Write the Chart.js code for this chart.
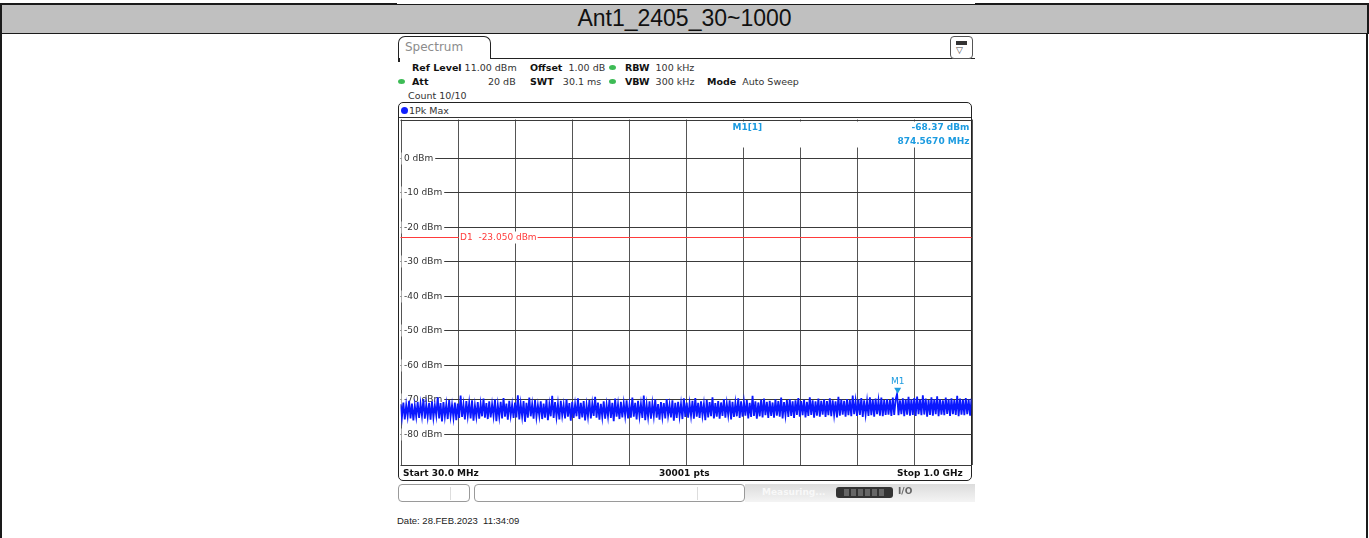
<!DOCTYPE html>
<html>
<head>
<meta charset="utf-8">
<script src="https://cdn.jsdelivr.net/npm/chart.js@4.4.0/dist/chart.umd.min.js"></script>
<style>
  html, body { margin: 0; padding: 0; background: #fff; }
  body { width: 1369px; height: 538px; position: relative; overflow: hidden; font-family: "DejaVu Sans", sans-serif; color: #222; }
  .abs { position: absolute; }
  #title { left: 0; top: 3px; width: 1369px; height: 31px; box-sizing: border-box; background: #c0c0c0;
           border: 2px solid #1a1a1a; border-bottom-width: 1.5px;
           font: 23px "Liberation Sans", Arial, sans-serif; color: #111; text-align: center; line-height: 27px; }
  #cellL { left: 0; top: 33px; width: 2px; height: 505px; background: #1a1a1a; }
  #cellR { left: 1366px; top: 33px; width: 2px; height: 505px; background: #1a1a1a; }
  #topMask { left: 397px; top: 0; width: 578px; height: 4px; background: #fff; }
  #tab { left: 398px; top: 36px; width: 91px; height: 22px; border: 1.5px solid #222; border-bottom: none;
         border-radius: 7px 7px 0 0; background: #fff; }
  #tab span { position: absolute; left: 6px; top: 3px; font-size: 12px; color: #8c8c8c; }
  #tabLine { left: 490px; top: 57.5px; width: 485px; height: 1.5px; background: #222; }
  #tabLeft { left: 398px; top: 58px; width: 1.5px; height: 4px; background: #222; }
  #menuIcon { left: 950px; top: 36px; width: 21px; height: 21px; border: 1px solid #555; border-radius: 4px; background: #fff; }
  #menuIcon .bar { position: absolute; left: 5px; top: 4px; width: 11px; height: 4px; background: #333; }
  #menuIcon .arr { position: absolute; left: 5px; top: 8px; font-size: 9px; color: #444; line-height: 10px; }
  .hd { position: absolute; font-size: 9.5px; line-height: 11px; white-space: pre; color: #333; }
  .hd b { color: #111; }
  .pl { position: absolute; font-size: 9px; line-height: 11px; white-space: pre; color: #111; font-weight: bold; }
  .dot { position: absolute; width: 7px; height: 5px; border-radius: 50%; background: #3dbb55; }
  #traceBox { left: 398px; top: 102px; width: 574px; height: 379px; box-sizing: border-box; border: 1.5px solid #222; border-radius: 5px; }
  #traceSep { left: 399px; top: 117px; width: 572px; height: 1px; background: #333; }
  #pkDot { left: 401px; top: 106.5px; width: 7px; height: 7px; border-radius: 50%; background: #1020ff; }
  #chartWrap { left: 398px; top: 117px; width: 576px; height: 352px; }
  .st { position: absolute; height: 18px; top: 484px; box-sizing: border-box; border: 1px solid #9a9a9a; border-radius: 4px; background: #fff; }
  .st i { position: absolute; top: 2px; width: 1px; height: 13px; background: #ddd; }
  #statusFade { left: 745px; top: 484px; width: 230px; height: 18px; background: linear-gradient(to bottom, #dcdcdc, #f4f4f4); }
  #statusFade .meas { position: absolute; left: 17px; top: 3px; font-size: 9px; color: #f8f8f8; font-weight: bold; }
  #prog { left: 836px; top: 487px; width: 57px; height: 11px; background: #333; border-radius: 3px; }
  #prog i { position: absolute; top: 2px; width: 5px; height: 7px; background: #666; }
  #ioIcon { left: 898px; top: 486px; font: bold 9px "DejaVu Sans"; color: #666; }
  #date { left: 397px; top: 515px; font: 9.5px "Liberation Sans", Arial, sans-serif; color: #222; white-space: pre; }
</style>
</head>
<body>
<div id="title" class="abs">Ant1_2405_30~1000</div>
<div id="cellL" class="abs"></div>
<div id="cellR" class="abs"></div>
<div id="topMask" class="abs"></div>

<div id="tab" class="abs"><span>Spectrum</span></div>
<div id="tabLine" class="abs"></div>
<div id="tabLeft" class="abs"></div>
<div id="menuIcon" class="abs"><div class="bar"></div><div class="arr">▽</div></div>

<div class="hd" style="left:412px;top:61.5px"><b>Ref Level</b> 11.00 dBm</div>
<div class="hd" style="left:530px;top:61.5px"><b>Offset</b>  1.00 dB</div>
<div class="dot" style="left:609px;top:64.5px"></div>
<div class="hd" style="left:625px;top:61.5px"><b>RBW</b>  100 kHz</div>

<div class="dot" style="left:398px;top:78.5px"></div>
<div class="hd" style="left:412px;top:75.5px"><b>Att</b></div>
<div class="hd" style="left:488px;top:75.5px">20 dB</div>
<div class="hd" style="left:530px;top:75.5px"><b>SWT</b>   30.1 ms</div>
<div class="dot" style="left:609px;top:78.5px"></div>
<div class="hd" style="left:625px;top:75.5px"><b>VBW</b>  300 kHz</div>
<div class="hd" style="left:707px;top:75.5px"><b>Mode</b>  Auto Sweep</div>
<div class="hd" style="left:408px;top:89.5px">Count 10/10</div>

<div id="traceBox" class="abs"></div>
<div id="traceSep" class="abs"></div>
<div id="pkDot" class="abs"></div>
<div class="hd" style="left:409px;top:104.5px">1Pk Max</div>

<div id="chartWrap" class="abs"><canvas id="spec"></canvas></div>

<div class="pl" style="left:403px;top:467.5px">Start 30.0 MHz</div>
<div class="pl" style="left:659px;top:467.5px">30001 pts</div>
<div class="pl" style="left:897px;top:467.5px">Stop 1.0 GHz</div>

<div class="st" style="left:398px;width:72px"><i style="left:51px"></i></div>
<div class="st" style="left:474px;width:271px"><i style="left:222px"></i></div>
<div id="statusFade" class="abs"><span class="meas">Measuring...</span></div>
<div id="prog" class="abs"><i style="left:8px"></i><i style="left:15px"></i><i style="left:22px"></i><i style="left:29px"></i><i style="left:36px"></i><i style="left:43px"></i></div>
<div id="ioIcon" class="abs">I/O</div>

<div id="date" class="abs">Date: 28.FEB.2023  11:34:09</div>

<script>
// Sweep span and display range
const sweepStartMHz = 30;
const sweepStopMHz = 1000;
const levelTopDbm = 11;
const levelBottomDbm = -89;

// Graticule
const gridFreqsMHz = [30, 127, 224, 321, 418, 515, 612, 709, 806, 903, 1000];
const gridLevelsDbm = [0, -10, -20, -30, -40, -50, -60, -70, -80];
const levelLabels = ['0 dBm', '-10 dBm', '-20 dBm', '-30 dBm', '-40 dBm', '-50 dBm', '-60 dBm', '-70 dBm', '-80 dBm'];

// Display line D1 and marker M1
const displayLineDbm = -23.05;
const displayLineLabel = 'D1  -23.050 dBm';
const markerFreqMHz = 874.567;
const markerLevelDbm = -68.37;
const markerName = 'M1';
const markerReadout = ['M1[1]', '-68.37 dBm', '874.5670 MHz'];

// 1Pk Max trace, evenly spaced across the sweep (dBm)
const traceDbm = [
  -71.4,-75.2,-70.9,-75.8,-71.6,-74.9,-70.4,-75.5,-71.2,-76.1,-71.8,-75.0,-70.7,-75.4,-71.3,-74.8,-69.9,-75.6,-71.5,-75.1,
  -71.0,-75.9,-70.6,-75.3,-71.7,-74.7,-69.4,-75.5,-71.1,-76.4,-70.8,-75.0,-71.4,-75.7,-70.2,-74.9,-71.6,-75.3,-70.9,-76.0,
  -71.2,-75.4,-68.9,-75.1,-71.5,-75.8,-70.5,-74.8,-71.0,-75.5,-70.3,-76.2,-71.7,-75.0,-70.8,-75.6,-71.3,-74.9,-69.8,-75.3,
  -71.1,-75.7,-70.6,-75.2,-71.4,-74.8,-70.0,-76.3,-71.6,-75.1,-70.7,-75.5,-69.6,-75.0,-71.2,-75.9,-70.4,-74.7,-71.5,-75.4,
  -70.9,-75.2,-68.8,-75.8,-71.3,-75.0,-70.5,-76.5,-71.0,-75.3,-69.5,-74.9,-71.4,-75.6,-70.2,-75.1,-71.7,-74.8,-70.6,-75.7,
  -71.2,-75.3,-70.1,-76.0,-71.5,-74.9,-69.0,-75.4,-70.8,-75.1,-71.3,-75.8,-70.4,-74.7,-71.6,-75.5,-70.0,-75.0,-71.1,-76.2,
  -70.7,-75.4,-71.4,-74.9,-69.7,-75.7,-71.0,-75.2,-70.5,-76.1,-71.6,-75.0,-70.2,-75.5,-71.2,-74.8,-69.3,-75.3,-70.9,-75.9,
  -71.3,-75.1,-70.6,-75.6,-71.5,-74.9,-70.1,-75.4,-71.0,-76.3,-69.8,-75.0,-71.4,-75.7,-70.7,-75.2,-71.1,-74.8,-70.3,-75.5,
  -71.6,-75.3,-69.5,-75.0,-71.0,-75.8,-70.4,-74.9,-71.3,-75.4,-68.9,-76.0,-71.5,-75.1,-70.6,-75.6,-71.2,-74.8,-70.0,-75.3,
  -71.4,-75.9,-70.8,-75.0,-71.1,-75.5,-69.9,-74.7,-71.6,-75.2,-70.3,-76.2,-71.0,-75.4,-70.7,-74.9,-71.3,-75.7,-69.7,-75.1,
  -70.9,-75.3,-71.2,-74.8,-70.4,-75.6,-69.6,-75.0,-71.0,-75.4,-70.6,-74.7,-71.3,-76.0,-70.1,-75.2,-70.8,-74.9,-69.4,-75.5,
  -71.1,-75.0,-70.5,-75.6,-70.9,-74.8,-69.9,-75.3,-71.2,-74.6,-70.3,-75.8,-70.7,-75.1,-71.0,-74.9,-69.7,-75.4,-70.6,-75.0,
  -70.8,-74.7,-70.2,-75.5,-71.0,-75.1,-69.0,-74.8,-70.6,-75.6,-70.9,-74.9,-70.1,-75.2,-69.8,-74.6,-70.7,-75.4,-70.4,-74.8,
  -70.9,-75.3,-70.0,-74.7,-70.5,-75.0,-69.5,-75.5,-70.8,-74.6,-70.2,-75.1,-69.9,-74.8,-70.6,-75.4,-70.3,-74.5,-69.6,-75.0,
  -70.5,-74.6,-70.1,-75.2,-70.7,-74.8,-69.4,-74.5,-70.3,-75.3,-70.6,-74.7,-69.8,-75.0,-70.4,-74.4,-70.0,-75.1,-70.5,-74.6,
  -69.7,-74.9,-70.3,-74.5,-70.6,-75.2,-69.3,-74.7,-70.1,-74.4,-70.4,-75.0,-69.9,-74.6,-70.2,-74.9,-68.9,-74.3,-70.5,-74.8,
  -70.0,-74.5,-69.6,-75.1,-70.3,-74.4,-70.5,-74.8,-69.4,-74.6,-70.1,-75.0,-69.8,-74.3,-70.4,-74.7,-69.5,-74.9,-70.2,-74.5,
  -69.9,-74.4,-70.2,-74.8,-69.5,-74.5,-70.0,-68.4,-74.6,-70.3,-74.3,-69.7,-74.9,-70.1,-74.4,-69.3,-74.7,-70.0,-74.5,-69.6,
  -74.8,-69.2,-74.3,-70.1,-74.6,-68.8,-74.4,-69.8,-75.0,-70.2,-74.5,-69.4,-74.7,-70.0,-74.3,-69.1,-74.9,-69.9,-74.4,-70.3,
  -74.6,-69.5,-74.2,-70.0,-74.8,-69.7,-74.3,-70.2,-74.5,-69.0,-74.9,-69.8,-74.4,-70.1,-74.6,-69.6,-74.3,-70.0,-74.7,-69.8
];

const sweepStepMHz = (sweepStopMHz - sweepStartMHz) / (traceDbm.length - 1);
const tracePoints = traceDbm.map((v, i) => ({ x: sweepStartMHz + i * sweepStepMHz, y: v }));

const FONT = '9px "DejaVu Sans", sans-serif';
const FONT_B = 'bold 9px "DejaVu Sans", sans-serif';
const MARKER_BLUE = '#1c9be0';

const graticule = {
  id: 'graticule',
  beforeDatasetsDraw(chart) {
    const { ctx, chartArea: a, scales: { x, y } } = chart;
    const crisp = v => Math.round(v) + 0.5;
    ctx.save();
    ctx.lineWidth = 1;

    // vertical divisions
    ctx.strokeStyle = '#555';
    gridFreqsMHz.forEach(f => {
      const px = crisp(x.getPixelForValue(f));
      ctx.beginPath(); ctx.moveTo(px, a.top); ctx.lineTo(px, a.bottom); ctx.stroke();
    });
    // horizontal divisions and frame
    ctx.strokeStyle = '#3a3a3a';
    [levelTopDbm, ...gridLevelsDbm, levelBottomDbm].forEach(l => {
      const py = crisp(y.getPixelForValue(l));
      ctx.beginPath(); ctx.moveTo(a.left, py); ctx.lineTo(a.right, py); ctx.stroke();
    });

    // marker readout area
    const topY = crisp(y.getPixelForValue(levelTopDbm));
    ctx.fillStyle = '#fff';
    ctx.fillRect(a.left + 330, topY + 1, a.right - a.left - 331.5, 26);
    ctx.fillStyle = MARKER_BLUE;
    ctx.textBaseline = 'middle';
    ctx.font = FONT_B;
    ctx.textAlign = 'left';
    ctx.fillText(markerReadout[0], a.left + 332, topY + 7);
    ctx.textAlign = 'right';
    ctx.fillText(markerReadout[1], a.right - 2, topY + 7);
    ctx.fillText(markerReadout[2], a.right - 2, topY + 21);

    // level labels
    ctx.font = FONT;
    ctx.textAlign = 'left';
    gridLevelsDbm.forEach((l, i) => {
      const py = crisp(y.getPixelForValue(l));
      const w = ctx.measureText(levelLabels[i]).width;
      ctx.fillStyle = '#fff';
      ctx.fillRect(a.left + 1, py - 6, w + 4.5, 12);
      ctx.fillStyle = '#333';
      ctx.fillText(levelLabels[i], a.left + 3.5, py);
    });

    // display line D1
    const dy = crisp(y.getPixelForValue(displayLineDbm));
    ctx.strokeStyle = '#ff3b3b';
    ctx.beginPath(); ctx.moveTo(a.left, dy); ctx.lineTo(a.right, dy); ctx.stroke();
    const lx = a.left + 58.5;
    const lw = ctx.measureText(displayLineLabel).width;
    ctx.fillStyle = '#fff';
    ctx.fillRect(lx, dy - 6, lw + 2, 12);
    ctx.fillStyle = '#ff3b3b';
    ctx.fillText(displayLineLabel, lx + 1, dy);
    ctx.restore();
  },
  afterDatasetsDraw(chart) {
    const { ctx, scales: { x, y } } = chart;
    const mx = x.getPixelForValue(markerFreqMHz);
    const my = y.getPixelForValue(markerLevelDbm);
    ctx.save();
    ctx.fillStyle = MARKER_BLUE;
    ctx.beginPath();
    ctx.moveTo(mx - 3.5, my - 6);
    ctx.lineTo(mx + 3.5, my - 6);
    ctx.lineTo(mx, my);
    ctx.closePath();
    ctx.fill();
    ctx.font = FONT;
    ctx.textAlign = 'center';
    ctx.textBaseline = 'middle';
    ctx.fillText(markerName, mx, my - 12);
    ctx.restore();
  }
};

new Chart(document.getElementById('spec'), {
  type: 'line',
  data: {
    datasets: [{
      label: '1Pk Max',
      data: tracePoints,
      borderColor: 'rgb(10, 24, 255)',
      borderWidth: 1.8,
      borderJoinStyle: 'miter',
      pointRadius: 0,
      tension: 0,
      fill: false
    }]
  },
  options: {
    responsive: true,
    maintainAspectRatio: false,
    animation: false,
    events: [],
    layout: { padding: { left: 2.5, top: 2.5, right: 2.5, bottom: 4 } },
    plugins: { legend: { display: false }, tooltip: { enabled: false } },
    scales: {
      x: { type: 'linear', min: sweepStartMHz, max: sweepStopMHz, display: false },
      y: { type: 'linear', min: levelBottomDbm, max: levelTopDbm, display: false }
    }
  },
  plugins: [graticule]
});
</script>
</body>
</html>
